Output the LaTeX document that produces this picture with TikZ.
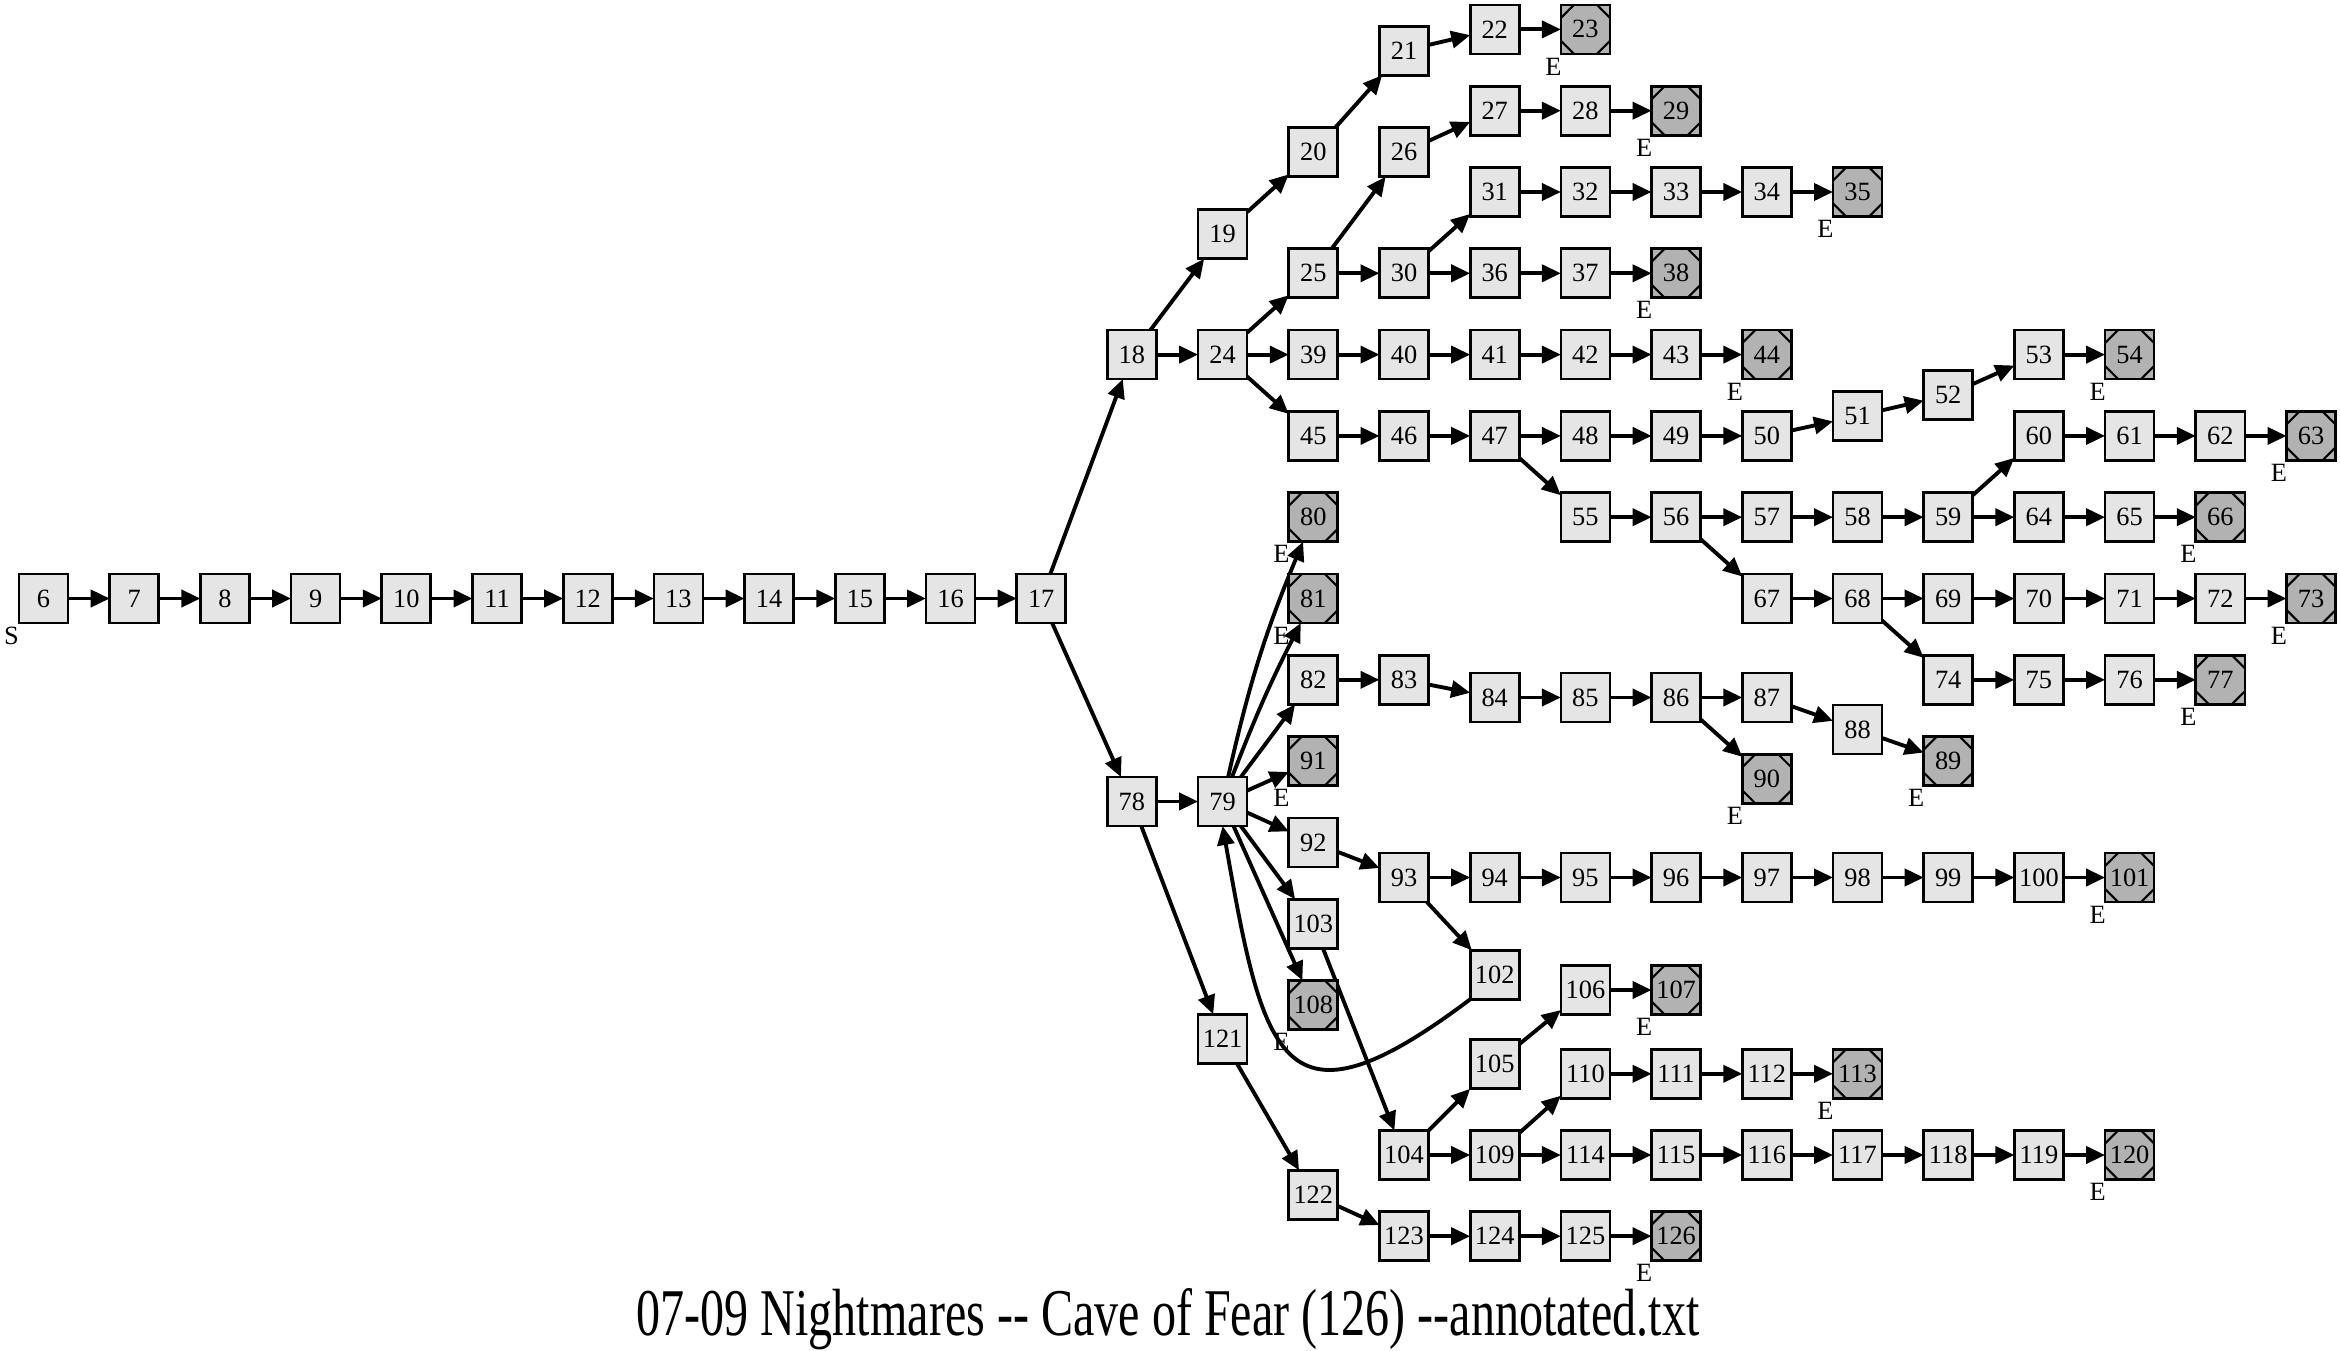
\documentclass[tikz,border=0pt]{standalone}
\usepackage{fontspec}
\setmainfont{Liberation Serif}
\usepackage{tikz}
\usepackage{tikz-network}
\usetikzlibrary{arrows.meta}

\newcommand{\nodefont}{\fontsize{7.5}{9}\selectfont}
\definecolor{boxgray}{gray}{0.9}
\definecolor{endgray}{gray}{0.7}

\tikzset{>={Triangle[length=1.9mm,width=1.7mm]}}
\SetVertexStyle[Shape=rectangle,MinSize=0.49cm,InnerSep=0pt,LineWidth=0.75pt,FillColor=boxgray,TextFont=\nodefont]
\SetEdgeStyle[LineWidth=1.1pt,Color=black,Arrow=->]

\tikzset{
  cornerlabel/.style={anchor=center,xshift=-0.075cm,yshift=-0.125cm,inner sep=0pt,font=\nodefont},
  endnode/.style={label={[cornerlabel]south west:E},path picture={
    \foreach \corner/\sx/\sy in {north west/1/-1,north east/-1/-1,south west/1/1,south east/-1/1}
      \draw[line width=0.6pt] ([xshift=\sx*0.13cm]path picture bounding box.\corner) -- ([yshift=\sy*0.13cm]path picture bounding box.\corner);
  }},
  backedge/.style={line width=1.1pt,->},
}

\begin{document}
\begin{tikzpicture}
\useasboundingbox (0,0) rectangle (23.4,-13.51);

\Vertex[x=0.435,y=-5.985,IdAsLabel,style={label={[cornerlabel]south west:S}}]{6}
\Vertex[x=1.342,y=-5.985,IdAsLabel]{7}
\Vertex[x=2.249,y=-5.985,IdAsLabel]{8}
\Vertex[x=3.156,y=-5.985,IdAsLabel]{9}
\Vertex[x=4.063,y=-5.985,IdAsLabel]{10}
\Vertex[x=4.970,y=-5.985,IdAsLabel]{11}
\Vertex[x=5.877,y=-5.985,IdAsLabel]{12}
\Vertex[x=6.784,y=-5.985,IdAsLabel]{13}
\Vertex[x=7.691,y=-5.985,IdAsLabel]{14}
\Vertex[x=8.598,y=-5.985,IdAsLabel]{15}
\Vertex[x=9.505,y=-5.985,IdAsLabel]{16}
\Vertex[x=10.412,y=-5.985,IdAsLabel]{17}

\Vertex[x=11.319,y=-3.546,IdAsLabel]{18}
\Vertex[x=11.319,y=-8.015,IdAsLabel]{78}

\Vertex[x=12.226,y=-2.343,IdAsLabel]{19}
\Vertex[x=12.226,y=-3.546,IdAsLabel]{24}
\Vertex[x=12.226,y=-8.015,IdAsLabel]{79}
\Vertex[x=12.226,y=-10.388,IdAsLabel]{121}

\Vertex[x=13.133,y=-1.522,IdAsLabel]{20}
\Vertex[x=13.133,y=-2.733,IdAsLabel]{25}
\Vertex[x=13.133,y=-3.546,IdAsLabel]{39}
\Vertex[x=13.133,y=-4.359,IdAsLabel]{45}
\Vertex[x=13.133,y=-5.172,IdAsLabel,color=endgray,style={endnode}]{80}
\Vertex[x=13.133,y=-5.985,IdAsLabel,color=endgray,style={endnode}]{81}
\Vertex[x=13.133,y=-6.798,IdAsLabel]{82}
\Vertex[x=13.133,y=-7.611,IdAsLabel,color=endgray,style={endnode}]{91}
\Vertex[x=13.133,y=-8.424,IdAsLabel]{92}
\Vertex[x=13.133,y=-9.237,IdAsLabel]{103}
\Vertex[x=13.133,y=-10.050,IdAsLabel,color=endgray,style={endnode}]{108}
\Vertex[x=13.133,y=-11.948,IdAsLabel]{122}

\Vertex[x=14.040,y=-0.507,IdAsLabel]{21}
\Vertex[x=14.040,y=-1.522,IdAsLabel]{26}
\Vertex[x=14.040,y=-2.733,IdAsLabel]{30}
\Vertex[x=14.040,y=-3.546,IdAsLabel]{40}
\Vertex[x=14.040,y=-4.359,IdAsLabel]{46}
\Vertex[x=14.040,y=-6.798,IdAsLabel]{83}
\Vertex[x=14.040,y=-8.775,IdAsLabel]{93}
\Vertex[x=14.040,y=-11.550,IdAsLabel]{104}
\Vertex[x=14.040,y=-12.362,IdAsLabel]{123}

\Vertex[x=14.947,y=-0.294,IdAsLabel]{22}
\Vertex[x=14.947,y=-1.107,IdAsLabel]{27}
\Vertex[x=14.947,y=-1.920,IdAsLabel]{31}
\Vertex[x=14.947,y=-2.733,IdAsLabel]{36}
\Vertex[x=14.947,y=-3.546,IdAsLabel]{41}
\Vertex[x=14.947,y=-4.359,IdAsLabel]{47}
\Vertex[x=14.947,y=-6.975,IdAsLabel]{84}
\Vertex[x=14.947,y=-8.775,IdAsLabel]{94}
\Vertex[x=14.947,y=-9.748,IdAsLabel]{102}
\Vertex[x=14.947,y=-10.643,IdAsLabel]{105}
\Vertex[x=14.947,y=-11.550,IdAsLabel]{109}
\Vertex[x=14.947,y=-12.362,IdAsLabel]{124}

\Vertex[x=15.854,y=-0.294,IdAsLabel,color=endgray,style={endnode}]{23}
\Vertex[x=15.854,y=-1.107,IdAsLabel]{28}
\Vertex[x=15.854,y=-1.920,IdAsLabel]{32}
\Vertex[x=15.854,y=-2.733,IdAsLabel]{37}
\Vertex[x=15.854,y=-3.546,IdAsLabel]{42}
\Vertex[x=15.854,y=-4.359,IdAsLabel]{48}
\Vertex[x=15.854,y=-5.172,IdAsLabel]{55}
\Vertex[x=15.854,y=-6.975,IdAsLabel]{85}
\Vertex[x=15.854,y=-8.775,IdAsLabel]{95}
\Vertex[x=15.854,y=-9.900,IdAsLabel]{106}
\Vertex[x=15.854,y=-10.738,IdAsLabel]{110}
\Vertex[x=15.854,y=-11.550,IdAsLabel]{114}
\Vertex[x=15.854,y=-12.362,IdAsLabel]{125}

\Vertex[x=16.761,y=-1.107,IdAsLabel,color=endgray,style={endnode}]{29}
\Vertex[x=16.761,y=-1.920,IdAsLabel]{33}
\Vertex[x=16.761,y=-2.733,IdAsLabel,color=endgray,style={endnode}]{38}
\Vertex[x=16.761,y=-3.546,IdAsLabel]{43}
\Vertex[x=16.761,y=-4.359,IdAsLabel]{49}
\Vertex[x=16.761,y=-5.172,IdAsLabel]{56}
\Vertex[x=16.761,y=-6.975,IdAsLabel]{86}
\Vertex[x=16.761,y=-8.775,IdAsLabel]{96}
\Vertex[x=16.761,y=-9.900,IdAsLabel,color=endgray,style={endnode}]{107}
\Vertex[x=16.761,y=-10.738,IdAsLabel]{111}
\Vertex[x=16.761,y=-11.550,IdAsLabel]{115}
\Vertex[x=16.761,y=-12.362,IdAsLabel,color=endgray,style={endnode}]{126}

\Vertex[x=17.668,y=-1.920,IdAsLabel]{34}
\Vertex[x=17.668,y=-3.546,IdAsLabel,color=endgray,style={endnode}]{44}
\Vertex[x=17.668,y=-4.359,IdAsLabel]{50}
\Vertex[x=17.668,y=-5.172,IdAsLabel]{57}
\Vertex[x=17.668,y=-5.985,IdAsLabel]{67}
\Vertex[x=17.668,y=-6.975,IdAsLabel]{87}
\Vertex[x=17.668,y=-7.788,IdAsLabel,color=endgray,style={endnode}]{90}
\Vertex[x=17.668,y=-8.775,IdAsLabel]{97}
\Vertex[x=17.668,y=-10.738,IdAsLabel]{112}
\Vertex[x=17.668,y=-11.550,IdAsLabel]{116}

\Vertex[x=18.575,y=-1.920,IdAsLabel,color=endgray,style={endnode}]{35}
\Vertex[x=18.575,y=-4.160,IdAsLabel]{51}
\Vertex[x=18.575,y=-5.172,IdAsLabel]{58}
\Vertex[x=18.575,y=-5.985,IdAsLabel]{68}
\Vertex[x=18.575,y=-7.295,IdAsLabel]{88}
\Vertex[x=18.575,y=-8.775,IdAsLabel]{98}
\Vertex[x=18.575,y=-10.738,IdAsLabel,color=endgray,style={endnode}]{113}
\Vertex[x=18.575,y=-11.550,IdAsLabel]{117}

\Vertex[x=19.482,y=-3.950,IdAsLabel]{52}
\Vertex[x=19.482,y=-5.172,IdAsLabel]{59}
\Vertex[x=19.482,y=-5.985,IdAsLabel]{69}
\Vertex[x=19.482,y=-6.798,IdAsLabel]{74}
\Vertex[x=19.482,y=-7.611,IdAsLabel,color=endgray,style={endnode}]{89}
\Vertex[x=19.482,y=-8.775,IdAsLabel]{99}
\Vertex[x=19.482,y=-11.550,IdAsLabel]{118}

\Vertex[x=20.389,y=-3.546,IdAsLabel]{53}
\Vertex[x=20.389,y=-4.359,IdAsLabel]{60}
\Vertex[x=20.389,y=-5.172,IdAsLabel]{64}
\Vertex[x=20.389,y=-5.985,IdAsLabel]{70}
\Vertex[x=20.389,y=-6.798,IdAsLabel]{75}
\Vertex[x=20.389,y=-8.775,IdAsLabel]{100}
\Vertex[x=20.389,y=-11.550,IdAsLabel]{119}

\Vertex[x=21.296,y=-3.546,IdAsLabel,color=endgray,style={endnode}]{54}
\Vertex[x=21.296,y=-4.359,IdAsLabel]{61}
\Vertex[x=21.296,y=-5.172,IdAsLabel]{65}
\Vertex[x=21.296,y=-5.985,IdAsLabel]{71}
\Vertex[x=21.296,y=-6.798,IdAsLabel]{76}
\Vertex[x=21.296,y=-8.775,IdAsLabel,color=endgray,style={endnode}]{101}
\Vertex[x=21.296,y=-11.550,IdAsLabel,color=endgray,style={endnode}]{120}

\Vertex[x=22.203,y=-4.359,IdAsLabel]{62}
\Vertex[x=22.203,y=-5.172,IdAsLabel,color=endgray,style={endnode}]{66}
\Vertex[x=22.203,y=-5.985,IdAsLabel]{72}
\Vertex[x=22.203,y=-6.798,IdAsLabel,color=endgray,style={endnode}]{77}

\Vertex[x=23.110,y=-4.359,IdAsLabel,color=endgray,style={endnode}]{63}
\Vertex[x=23.110,y=-5.985,IdAsLabel,color=endgray,style={endnode}]{73}

\Edge[Direct](6)(7)
\Edge[Direct](7)(8)
\Edge[Direct](8)(9)
\Edge[Direct](9)(10)
\Edge[Direct](10)(11)
\Edge[Direct](11)(12)
\Edge[Direct](12)(13)
\Edge[Direct](13)(14)
\Edge[Direct](14)(15)
\Edge[Direct](15)(16)
\Edge[Direct](16)(17)
\Edge[Direct](17)(18)
\Edge[Direct](17)(78)

\Edge[Direct](18)(19)
\Edge[Direct](18)(24)
\Edge[Direct](19)(20)
\Edge[Direct](20)(21)
\Edge[Direct](21)(22)
\Edge[Direct](22)(23)

\Edge[Direct](24)(25)
\Edge[Direct](24)(39)
\Edge[Direct](24)(45)
\Edge[Direct](25)(26)
\Edge[Direct](25)(30)
\Edge[Direct](26)(27)
\Edge[Direct](27)(28)
\Edge[Direct](28)(29)
\Edge[Direct](30)(31)
\Edge[Direct](30)(36)
\Edge[Direct](31)(32)
\Edge[Direct](32)(33)
\Edge[Direct](33)(34)
\Edge[Direct](34)(35)
\Edge[Direct](36)(37)
\Edge[Direct](37)(38)

\Edge[Direct](39)(40)
\Edge[Direct](40)(41)
\Edge[Direct](41)(42)
\Edge[Direct](42)(43)
\Edge[Direct](43)(44)

\Edge[Direct](45)(46)
\Edge[Direct](46)(47)
\Edge[Direct](47)(48)
\Edge[Direct](47)(55)
\Edge[Direct](48)(49)
\Edge[Direct](49)(50)
\Edge[Direct](50)(51)
\Edge[Direct](51)(52)
\Edge[Direct](52)(53)
\Edge[Direct](53)(54)
\Edge[Direct](55)(56)
\Edge[Direct](56)(57)
\Edge[Direct](56)(67)
\Edge[Direct](57)(58)
\Edge[Direct](58)(59)
\Edge[Direct](59)(60)
\Edge[Direct](59)(64)
\Edge[Direct](60)(61)
\Edge[Direct](61)(62)
\Edge[Direct](62)(63)
\Edge[Direct](64)(65)
\Edge[Direct](65)(66)
\Edge[Direct](67)(68)
\Edge[Direct](68)(69)
\Edge[Direct](68)(74)
\Edge[Direct](69)(70)
\Edge[Direct](70)(71)
\Edge[Direct](71)(72)
\Edge[Direct](72)(73)
\Edge[Direct](74)(75)
\Edge[Direct](75)(76)
\Edge[Direct](76)(77)

\Edge[Direct](78)(79)
\Edge[Direct](78)(121)
\Edge[Direct,bend=5](79)(80)
\Edge[Direct,bend=3](79)(81)
\Edge[Direct](79)(82)
\Edge[Direct](79)(91)
\Edge[Direct](79)(92)
\Edge[Direct](79)(103)
\Edge[Direct](79)(108)

\Edge[Direct](82)(83)
\Edge[Direct](83)(84)
\Edge[Direct](84)(85)
\Edge[Direct](85)(86)
\Edge[Direct](86)(87)
\Edge[Direct](86)(90)
\Edge[Direct](87)(88)
\Edge[Direct](88)(89)

\Edge[Direct](92)(93)
\Edge[Direct](93)(94)
\Edge[Direct](93)(102)
\Edge[Direct](94)(95)
\Edge[Direct](95)(96)
\Edge[Direct](96)(97)
\Edge[Direct](97)(98)
\Edge[Direct](98)(99)
\Edge[Direct](99)(100)
\Edge[Direct](100)(101)
\draw[backedge] (102.south west) to[out=-143,in=-80,looseness=2] (79.south);

\Edge[Direct](103)(104)
\Edge[Direct](104)(105)
\Edge[Direct](104)(109)
\Edge[Direct](105)(106)
\Edge[Direct](106)(107)
\Edge[Direct](109)(110)
\Edge[Direct](109)(114)
\Edge[Direct](110)(111)
\Edge[Direct](111)(112)
\Edge[Direct](112)(113)
\Edge[Direct](114)(115)
\Edge[Direct](115)(116)
\Edge[Direct](116)(117)
\Edge[Direct](117)(118)
\Edge[Direct](118)(119)
\Edge[Direct](119)(120)

\Edge[Direct](121)(122)
\Edge[Direct](122)(123)
\Edge[Direct](123)(124)
\Edge[Direct](124)(125)
\Edge[Direct](125)(126)

\node[inner sep=0pt] (title) at (11.68,-13.19) {\scalebox{0.72}[1]{\fontsize{19}{22}\selectfont 07-09 Nightmares -{}- Cave of Fear (126) -{}-annotated.txt}};

\end{tikzpicture}
\end{document}
